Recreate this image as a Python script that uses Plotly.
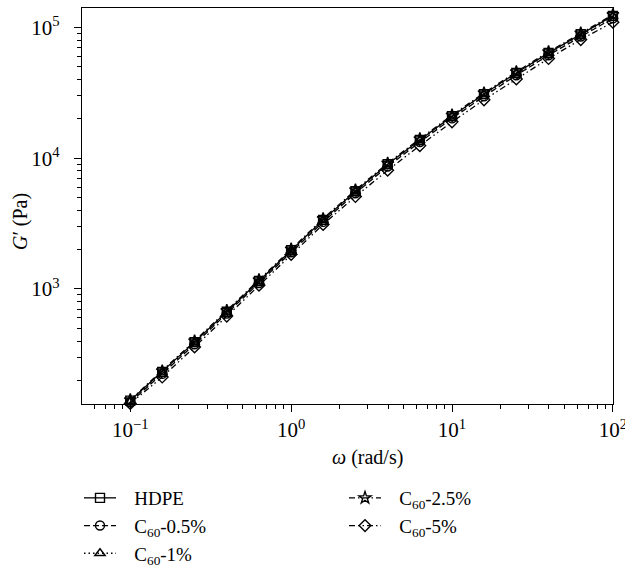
import plotly.graph_objects as go

omega = [0.1, 0.158, 0.251, 0.398, 0.631, 1.0, 1.58, 2.51, 3.98, 6.31,
         10.0, 15.8, 25.1, 39.8, 63.1, 100.0]

hdpe    = [140, 232, 392, 670, 1150, 1980, 3380, 5600, 9000, 13800,
           21000, 31000, 45000, 64000, 89000, 123000]
c60_05  = [136, 224, 378, 648, 1110, 1910, 3260, 5400, 8650, 13300,
           20200, 29800, 43200, 61500, 85500, 118000]
c60_1   = [138, 229, 388, 662, 1138, 1960, 3340, 5540, 8900, 13650,
           20800, 30700, 44500, 63300, 88000, 121500]
c60_25  = [142, 236, 400, 684, 1175, 2020, 3450, 5720, 9180, 14100,
           21400, 31600, 45900, 65300, 90800, 125500]
c60_5   = [133, 212, 360, 620, 1070, 1840, 3120, 5100, 8100, 12500,
           19000, 28000, 40500, 58000, 81000, 110000]

x_tickvals = [0.1, 1, 10, 100]
x_ticktext = ["10<sup>−1</sup>", "10<sup>0</sup>", "10<sup>1</sup>", "10<sup>2</sup>"]
y_tickvals = [1000, 10000, 100000]
y_ticktext = ["10<sup>3</sup>", "10<sup>4</sup>", "10<sup>5</sup>"]

names = ["HDPE", "C<sub>60</sub>-0.5%", "C<sub>60</sub>-1%",
         "C<sub>60</sub>-2.5%", "C<sub>60</sub>-5%"]
series = [hdpe, c60_05, c60_1, c60_25, c60_5]
symbols = ["square-open", "circle-open", "triangle-up-open", "star-open", "diamond-open"]
dashes = ["solid", "6px,3px", "1.5px,3px", "6px,3px,1.5px,3px", "6px,3px,1.5px,3px,1.5px,3px"]
legends = ["legend", "legend", "legend", "legend2", "legend2"]

FONT = "Liberation Serif"
GAP = "\u2002\u2009"  # visual gap between legend symbol and label

fig = go.Figure()
for name, ys, sym, dash, lg in zip(names, series, symbols, dashes, legends):
    fig.add_trace(go.Scatter(
        x=omega, y=ys, name=GAP + name, mode="lines+markers",
        line=dict(color="black", width=1.3, dash=dash),
        marker=dict(symbol=sym, size=9, color="black",
                    line=dict(color="black", width=1.4)),
        legend=lg, cliponaxis=False,
    ))

axis_common = dict(
    type="log", showgrid=False, zeroline=False,
    showline=True, linecolor="black", linewidth=1.3, mirror=True,
    ticks="outside", ticklen=7, tickwidth=1.2, tickcolor="black",
    minor=dict(ticks="outside", ticklen=4, tickwidth=1.2, tickcolor="black",
               dtick="D1", showgrid=False),
    tickfont=dict(family=FONT, size=21, color="black"),
    ticklabeloverflow="allow",
)

fig.update_xaxes(**axis_common, range=[-1.3, 2.0005],
                 tickmode="array", tickvals=x_tickvals, ticktext=x_ticktext)
fig.update_yaxes(**axis_common, range=[2.12, 5.15],
                 tickmode="array", tickvals=y_tickvals, ticktext=y_ticktext,
                 ticklabelstandoff=10)

legend_common = dict(
    xref="container", yref="container", xanchor="left", yanchor="top",
    font=dict(family=FONT, size=19, color="black"),
    bgcolor="rgba(0,0,0,0)", borderwidth=0, orientation="v",
    tracegroupgap=0, itemwidth=32,
)

fig.update_layout(
    width=625, height=567,
    margin=dict(l=82, r=12, t=8, b=163, autoexpand=False),
    paper_bgcolor="white", plot_bgcolor="white",
    font=dict(family=FONT, size=20, color="black"),
    legend=dict(**legend_common, x=79/625, y=1 - 479/567),
    legend2=dict(**legend_common, x=344/625, y=1 - 479/567),
    annotations=[
        dict(text="<i>ω</i> (rad/s)", xref="paper", yref="paper",
             x=(367 - 82) / 531, y=-(458 - 404) / 396,
             xanchor="center", yanchor="middle", showarrow=False,
             font=dict(family=FONT, size=20, color="black")),
        dict(text="<i>G</i>′ (Pa)", xref="paper", yref="paper",
             x=(20 - 82) / 531, y=(404 - 222) / 396, textangle=-90,
             xanchor="center", yanchor="middle", showarrow=False,
             font=dict(family=FONT, size=20, color="black")),
    ],
)

fig.write_html("out.html")
